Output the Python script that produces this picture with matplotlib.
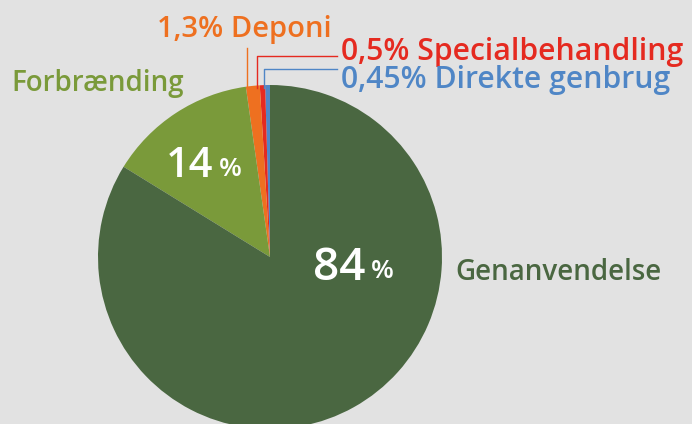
import matplotlib
matplotlib.use("Agg")
import matplotlib.pyplot as plt

categories = ["Direkte genbrug", "Specialbehandling", "Deponi", "Forbrænding", "Genanvendelse"]
values = [0.45, 0.5, 1.3, 14, 84]
value_labels = ["0,45%", "0,5%", "1,3%", "14", "84"]
colors = ["#4f86c6", "#e52a20", "#ee7020", "#7a9a3a", "#4a6741"]

W, H = 692, 424
fig = plt.figure(figsize=(W / 100, H / 100), dpi=100)
fig.patch.set_facecolor("#e2e2e2")
ax = fig.add_axes([0, 0, 1, 1])
ax.set_facecolor("#e2e2e2")

cx, cy, r = 270, H - 257, 172
ax.pie(values, colors=colors, startangle=90, counterclock=True,
       center=(cx, cy), radius=r, wedgeprops=dict(linewidth=0))
ax.set_xlim(0, W)
ax.set_ylim(0, H)
ax.set_aspect("equal")
ax.axis("off")

fam = ["Open Sans", "DejaVu Sans"]

def Y(y):
    return H - y

fig.canvas.draw()
renderer = fig.canvas.get_renderer()

def big_pct(x, y, digits, size):
    t = ax.text(x, Y(y), digits, color="white", fontsize=size, fontweight="semibold",
                family=fam, ha="left", va="center")
    bb = t.get_window_extent(renderer=renderer)
    ax.text(bb.x1 + 5, Y(y + 3), "%", color="white", fontsize=19, fontweight="semibold",
            family=fam, ha="left", va="center")

big_pct(313, 268, value_labels[4], 33)
big_pct(166, 166, value_labels[3], 30)

# outer labels
ax.text(455, Y(272), categories[4], color=colors[4], fontsize=20, fontweight="semibold",
        family=fam, ha="left", va="center")
ax.text(11, Y(84), categories[3], color=colors[3], fontsize=20, fontweight="semibold",
        family=fam, ha="left", va="center")
ax.text(157, Y(30), f"{value_labels[2]} {categories[2]}", color=colors[2], fontsize=21,
        fontweight="semibold", family=fam, ha="left", va="center")
ax.text(341, Y(52), f"{value_labels[1]} {categories[1]}", color=colors[1], fontsize=21.7,
        fontweight="semibold", family=fam, ha="left", va="center")
ax.text(341, Y(80), f"{value_labels[0]} {categories[0]}", color=colors[0], fontsize=21.7,
        fontweight="semibold", family=fam, ha="left", va="center")

# leader lines
ax.plot([247, 247], [Y(48), Y(88)], color=colors[2], lw=1)
ax.plot([257, 257, 337], [Y(88), Y(56), Y(56)], color=colors[1], lw=1)
ax.plot([264, 264, 337], [Y(88), Y(69), Y(69)], color=colors[0], lw=1)

fig.savefig("out.png", dpi=100, facecolor=fig.get_facecolor())
